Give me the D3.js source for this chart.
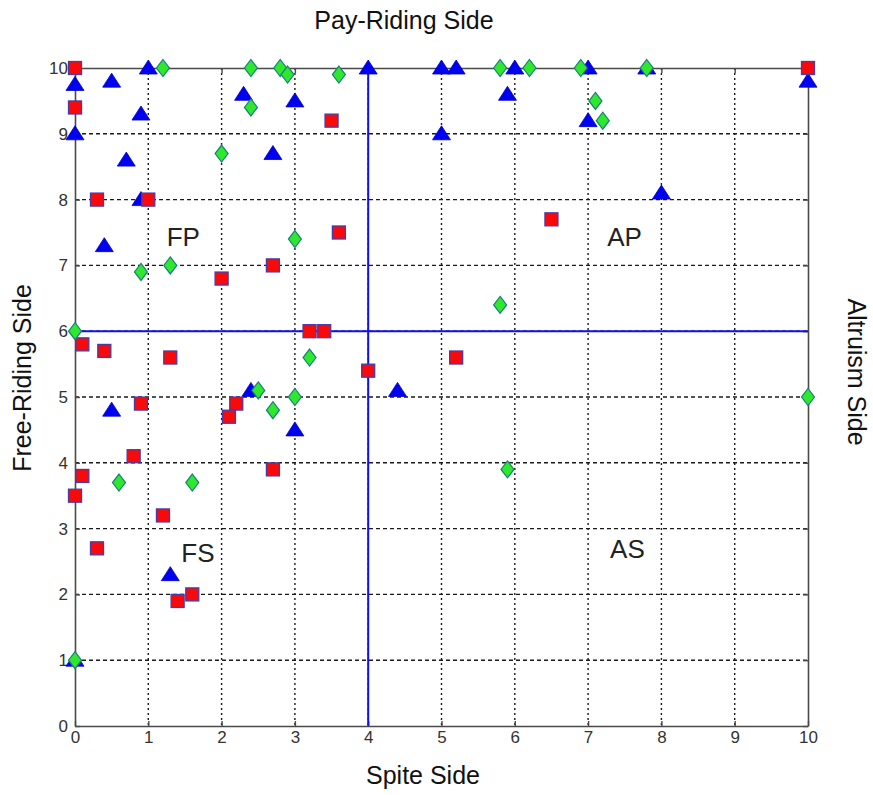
<!DOCTYPE html>
<html>
<head>
<meta charset="utf-8">
<script src="https://cdn.jsdelivr.net/npm/d3@7/dist/d3.min.js"></script>
<style>
  html, body { margin: 0; padding: 0; background: #fff; }
  svg { display: block; font-family: "Liberation Sans", Arial, sans-serif; }
  .tick text { fill: #333; }
</style>
</head>
<body>
<svg id="chart" width="873" height="795"></svg>
<script>
// Axis ticks (both axes run 0..10)
const xTicks = [0, 1, 2, 3, 4, 5, 6, 7, 8, 9, 10];
const yTicks = [0, 1, 2, 3, 4, 5, 6, 7, 8, 9, 10];

// Quadrant dividers
const dividerX = 4;
const dividerY = 6;

// Series: blue triangles
const triX = [0, 0, 0, 0.5, 1, 0.9, 0.7, 0.9, 0.4, 2.3, 2.7, 3, 4, 5, 5.2, 6, 5.9, 7, 7, 5, 7.8, 10, 8, 0.5, 2.4, 3, 4.4, 1.3];
const triY = [9.75, 9.0, 1.0, 9.8, 10, 9.3, 8.6, 8.0, 7.3, 9.6, 8.7, 9.5, 10, 10, 10, 10, 9.6, 10, 9.2, 9.0, 10, 9.8, 8.1, 4.8, 5.1, 4.5, 5.1, 2.3];

// Series: red squares
const sqX = [0, 0, 0.3, 1, 3.5, 3.6, 2.7, 2, 6.5, 10, 0.1, 0.4, 1.3, 0.9, 0.8, 0.1, 0, 3.2, 3.4, 2.2, 2.1, 2.7, 4, 5.2, 1.2, 0.3, 1.4, 1.6];
const sqY = [10, 9.4, 8, 8, 9.2, 7.5, 7, 6.8, 7.7, 10, 5.8, 5.7, 5.6, 4.9, 4.1, 3.8, 3.5, 6, 6, 4.9, 4.7, 3.9, 5.4, 5.6, 3.2, 2.7, 1.9, 2.0];

// Series: green diamonds
const dmX = [1.2, 2.4, 2.8, 2.9, 3.6, 2.4, 2, 3, 0.9, 1.3, 5.8, 6.2, 6.9, 7.1, 7.2, 7.8, 0, 3.2, 2.5, 2.7, 3, 0.6, 1.6, 5.8, 5.9, 10, 0];
const dmY = [10, 10, 10, 9.9, 9.9, 9.4, 8.7, 7.4, 6.9, 7.0, 10, 10, 10, 9.5, 9.2, 10, 6, 5.6, 5.1, 4.8, 5.0, 3.7, 3.7, 6.4, 3.9, 5, 1];

// Quadrant labels
const quadLabels = ["FP", "AP", "FS", "AS"];
const quadX = [1.25, 7.26, 1.45, 7.3];
const quadY = [7.3, 7.3, 2.5, 2.55];

const svg = d3.select("#chart");
const plotL = 75, plotR = 808, plotT = 68, plotB = 726;
const x = d3.scaleLinear().domain([0, 10]).range([plotL, plotR]);
const y = d3.scaleLinear().domain([0, 10]).range([plotB, plotT]);

// Grid
const grid = svg.append("g").attr("stroke", "#1a1a1a").attr("stroke-width", 1.4);
grid.selectAll("line.v").data(xTicks.slice(1, -1)).join("line")
  .attr("class", "v")
  .attr("x1", d => x(d)).attr("x2", d => x(d))
  .attr("y1", plotT).attr("y2", plotB)
  .attr("stroke-dasharray", "2,3");
grid.selectAll("line.h").data(yTicks.slice(1, -1)).join("line")
  .attr("class", "h")
  .attr("x1", plotL).attr("x2", plotR)
  .attr("y1", d => y(d)).attr("y2", d => y(d))
  .attr("stroke-dasharray", "4,3");

// Frame axes
const axisColor = "#4a4a4a";
const tickFont = 17;
const styleAxis = g => {
  g.selectAll(".domain").attr("stroke", axisColor).attr("stroke-width", 1.6);
  g.selectAll(".tick line").attr("stroke", axisColor).attr("stroke-width", 1.4);
};
svg.append("g").attr("transform", `translate(0,${plotB})`)
  .call(d3.axisBottom(x).tickValues(xTicks).tickSize(-5).tickSizeOuter(0).tickPadding(5))
  .call(styleAxis)
  .call(g => g.selectAll(".tick text").attr("font-size", tickFont).attr("font-family", "Liberation Sans, Arial, sans-serif"));
svg.append("g").attr("transform", `translate(${plotL},0)`)
  .call(d3.axisLeft(y).tickValues(yTicks).tickSize(-5).tickSizeOuter(0).tickPadding(7))
  .call(styleAxis)
  .call(g => g.selectAll(".tick text").attr("font-size", tickFont).attr("font-family", "Liberation Sans, Arial, sans-serif"));
svg.append("g").attr("transform", `translate(0,${plotT})`)
  .call(d3.axisTop(x).tickValues(xTicks).tickSize(-5).tickSizeOuter(0).tickFormat(""))
  .call(styleAxis);
svg.append("g").attr("transform", `translate(${plotR},0)`)
  .call(d3.axisRight(y).tickValues(yTicks).tickSize(-5).tickSizeOuter(0).tickFormat(""))
  .call(styleAxis);

// Quadrant dividers
svg.append("line")
  .attr("x1", x(dividerX)).attr("x2", x(dividerX))
  .attr("y1", y(0)).attr("y2", y(10))
  .attr("stroke", "#1010f0").attr("stroke-width", 2);
svg.append("line")
  .attr("x1", x(0)).attr("x2", x(10))
  .attr("y1", y(dividerY)).attr("y2", y(dividerY))
  .attr("stroke", "#1010f0").attr("stroke-width", 2);

// Quadrant labels
svg.append("g").selectAll("text").data(quadLabels).join("text")
  .attr("x", (d, i) => x(quadX[i]))
  .attr("y", (d, i) => y(quadY[i]))
  .attr("font-size", 26).attr("fill", "#222")
  .text(d => d);

// Markers
const triPath = "M0,-8 L9,6 L-9,6 Z";
const diaPath = "M0,-8.5 L6.5,0 L0,8.5 L-6.5,0 Z";

svg.append("g").selectAll("path").data(d3.range(triX.length)).join("path")
  .attr("transform", i => `translate(${x(triX[i])},${y(triY[i])})`)
  .attr("d", triPath)
  .attr("fill", "#0000f0").attr("stroke", "#0000c8").attr("stroke-width", 0.8);

svg.append("g").selectAll("rect").data(d3.range(sqX.length)).join("rect")
  .attr("x", i => x(sqX[i]) - 6.5).attr("y", i => y(sqY[i]) - 6.5)
  .attr("width", 13).attr("height", 13)
  .attr("fill", "#f80a0a").attr("stroke", "#4a3aa8").attr("stroke-width", 1.3);

svg.append("g").selectAll("path").data(d3.range(dmX.length)).join("path")
  .attr("transform", i => `translate(${x(dmX[i])},${y(dmY[i])})`)
  .attr("d", diaPath)
  .attr("fill", "#2ee82e").attr("stroke", "#1a7f7a").attr("stroke-width", 1.2);

// Side titles
const titleFont = 25;
svg.append("text").attr("x", 404).attr("y", 29)
  .attr("text-anchor", "middle").attr("font-size", titleFont).attr("fill", "#111")
  .text("Pay-Riding Side");
svg.append("text").attr("x", 423).attr("y", 784)
  .attr("text-anchor", "middle").attr("font-size", titleFont).attr("fill", "#111")
  .text("Spite Side");
svg.append("text")
  .attr("transform", "translate(31,378) rotate(-90)")
  .attr("text-anchor", "middle").attr("font-size", titleFont).attr("fill", "#111")
  .text("Free-Riding Side");
svg.append("text")
  .attr("transform", "translate(848,372) rotate(90)")
  .attr("text-anchor", "middle").attr("font-size", titleFont).attr("fill", "#111")
  .text("Altruism Side");
</script>
</body>
</html>
